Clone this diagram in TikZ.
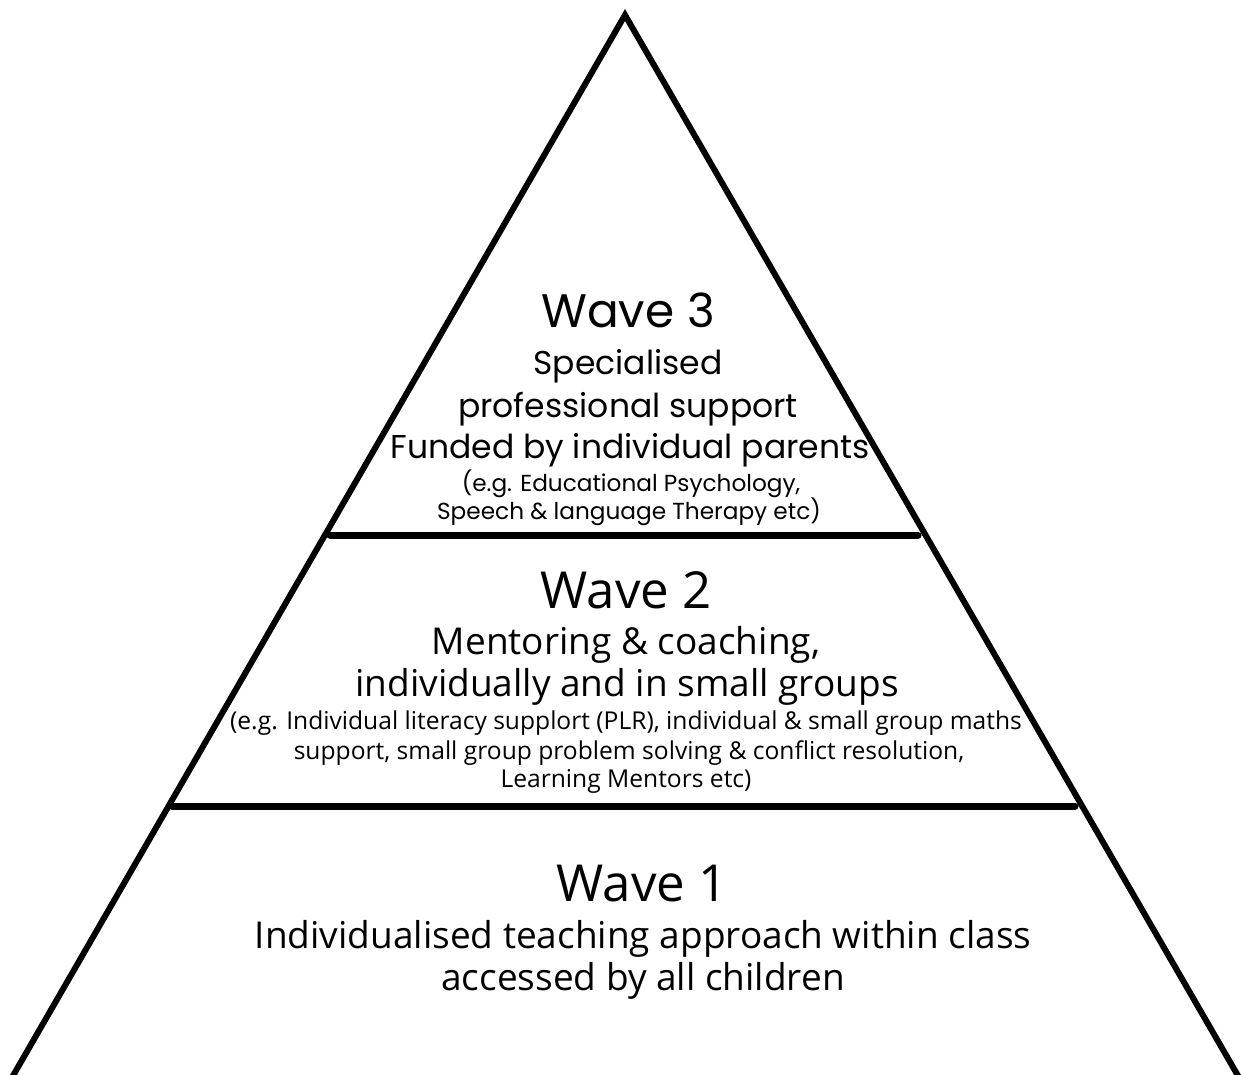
\documentclass[tikz,border=0pt]{standalone}
\usepackage{fontspec}
\setmainfont{Open Sans}
\newfontfamily\roundfont{Poppins}
\usetikzlibrary{positioning}

\begin{document}
\begin{tikzpicture}[x=0.5pt, y=-0.5pt,
    side/.style={line width=3pt, line join=miter},
    divider/.style={line width=3.5pt, line cap=round},
    title/.style={anchor=base, inner sep=0pt, font=\fontsize{25.5}{30}\selectfont},
    body/.style={anchor=base, inner sep=0pt, font=\fontsize{18.5}{22}\selectfont},
    note/.style={anchor=base, inner sep=0pt, font=\fontsize{12.3}{14}\selectfont},
    roundtitle/.style={title, font=\roundfont\fontsize{23.5}{28}\selectfont},
    roundbody/.style={body, font=\roundfont\fontsize{16.5}{20}\selectfont},
    roundnote/.style={note, font=\roundfont\fontsize{11.6}{14}\selectfont}]

    \clip (0,0) rectangle (1241,1075);

    % Pyramid outline, running off the bottom edge
    \coordinate (apex) at (625,15);
    \coordinate (baseL) at (-1,1100);
    \coordinate (baseR) at (1252,1100);
    \draw[side] (baseL) -- (apex) -- (baseR);

    % Dividers between the waves
    \coordinate (topL) at (330,535);
    \coordinate (topR) at (918,535);
    \coordinate (midL) at (172,806);
    \coordinate (midR) at (1075,806);
    \draw[divider] (topL) -- (topR);
    \draw[divider] (midL) -- (midR);

    % Wave 3
    \node[roundtitle] (w3) at (628,327) {Wave 3};
    \node[roundbody] (w3a) at (628,374) {Specialised};
    \node[roundbody] (w3b) at (628,417) {professional support};
    \node[roundbody] (w3c) at (630,458) {Funded by individual parents};
    \node[roundnote] (w3d) at (631,491) {(e.g. Educational Psychology,};
    \node[roundnote] (w3e) at (629,519) {Speech \& language Therapy etc)};

    % Wave 2
    \node[title] (w2) at (626,608) {Wave 2};
    \node[body] (w2a) at (626,654) {Mentoring \& coaching,};
    \node[body] (w2b) at (627,696) {individually and in small groups};
    \node[note] (w2c) at (626,729) {(e.g. Individual literacy supplort (PLR), individual \& small group maths};
    \node[note] (w2d) at (629,759) {support, small group problem solving \& conflict resolution,};
    \node[note] (w2e) at (626,787) {Learning Mentors etc)};

    % Wave 1
    \node[title] (w1) at (642,901) {Wave 1};
    \node[body] (w1a) at (643,948) {Individualised teaching approach within class};
    \node[body] (w1b) at (643,990) {accessed by all children};
\end{tikzpicture}
\end{document}
